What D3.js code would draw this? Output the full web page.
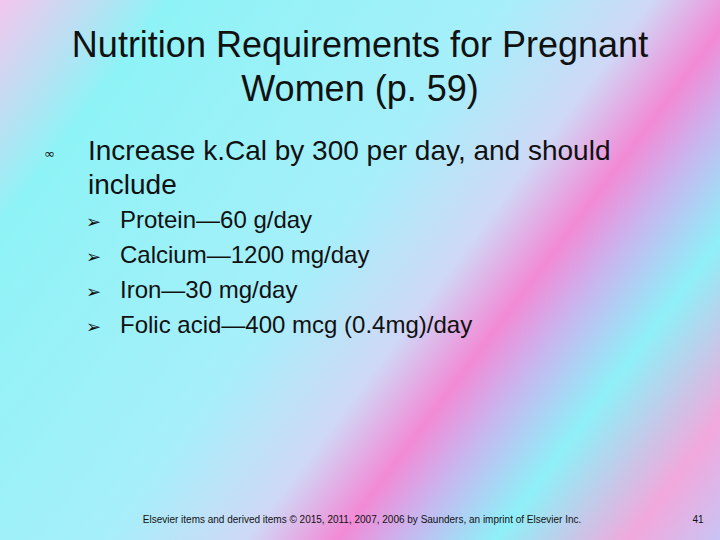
<!DOCTYPE html>
<html><head><meta charset="utf-8">
<script src="https://cdn.jsdelivr.net/npm/d3@7"></script>
<style>body{margin:0;overflow:hidden}</style>
</head><body>
<script>
const titleLines = ["Nutrition Requirements for Pregnant", "Women (p. 59)"];
const mainBulletLines = ["Increase k.Cal by 300 per day, and should", "include"];
const subBullets = ["Protein\u201460 g/day", "Calcium\u20141200 mg/day", "Iron\u201430 mg/day", "Folic acid\u2014400 mcg (0.4mg)/day"];
const footer = "Elsevier items and derived items \u00a9 2015, 2011, 2007, 2006 by Saunders, an imprint of Elsevier Inc.";
const pageNum = "41";
const bgStops = [[0,"#f4c6ee"],[0.15,"#8ef3f6"],[0.45,"#a6effa"],[0.58,"#cfd8f6"],[0.66,"#f28ad6"],[0.72,"#c6b8f0"],[0.8,"#8ef0f8"],[0.92,"#f2a8dc"],[1,"#c8c4f4"]];

const W=720,H=540,font="'Liberation Sans', Arial, sans-serif";
const svg=d3.select("body").append("svg").attr("width",W).attr("height",H);
const g=svg.append("defs").append("linearGradient").attr("id","bg")
 .attr("gradientUnits","userSpaceOnUse").attr("x1",0).attr("y1",0).attr("x2",W).attr("y2",H);
g.selectAll("stop").data(bgStops).join("stop").attr("offset",d=>d[0]).attr("stop-color",d=>d[1]);
svg.append("rect").attr("width",W).attr("height",H).attr("fill","url(#bg)");

const y=d3.scaleLinear().domain([0,1]).range([57,101]);
svg.selectAll(".title").data(titleLines).join("text").attr("x",360).attr("y",(d,i)=>y(i))
 .attr("text-anchor","middle").attr("font-family",font).attr("font-size",36).attr("fill","#111").text(d=>d);

const ym=d3.scaleLinear().domain([0,1]).range([160,194]);
svg.append("text").attr("x",44).attr("y",158).attr("font-family","DejaVu Sans").attr("font-size",13).attr("fill","#111").text("\u221e");
svg.selectAll(".main").data(mainBulletLines).join("text").attr("x",88).attr("y",(d,i)=>ym(i))
 .attr("font-family",font).attr("font-size",28).attr("fill","#111").text(d=>d);

const ys=d3.scaleLinear().domain([0,3]).range([228,333]);
const sg=svg.selectAll(".sub").data(subBullets).join("g").attr("transform",(d,i)=>`translate(0,${ys(i)})`);
sg.append("text").attr("x",86).attr("y",0).attr("font-family","DejaVu Sans").attr("font-size",18).attr("fill","#111").text("\u27a2");
sg.append("text").attr("x",120).attr("y",0).attr("font-family",font).attr("font-size",24).attr("fill","#111").text(d=>d);

svg.append("text").attr("x",362).attr("y",523).attr("text-anchor","middle").attr("font-family",font).attr("font-size",10).attr("fill","#111").text(footer);
svg.append("text").attr("x",698).attr("y",523).attr("text-anchor","middle").attr("font-family",font).attr("font-size",10).attr("fill","#111").text(pageNum);
</script>
</body></html>
